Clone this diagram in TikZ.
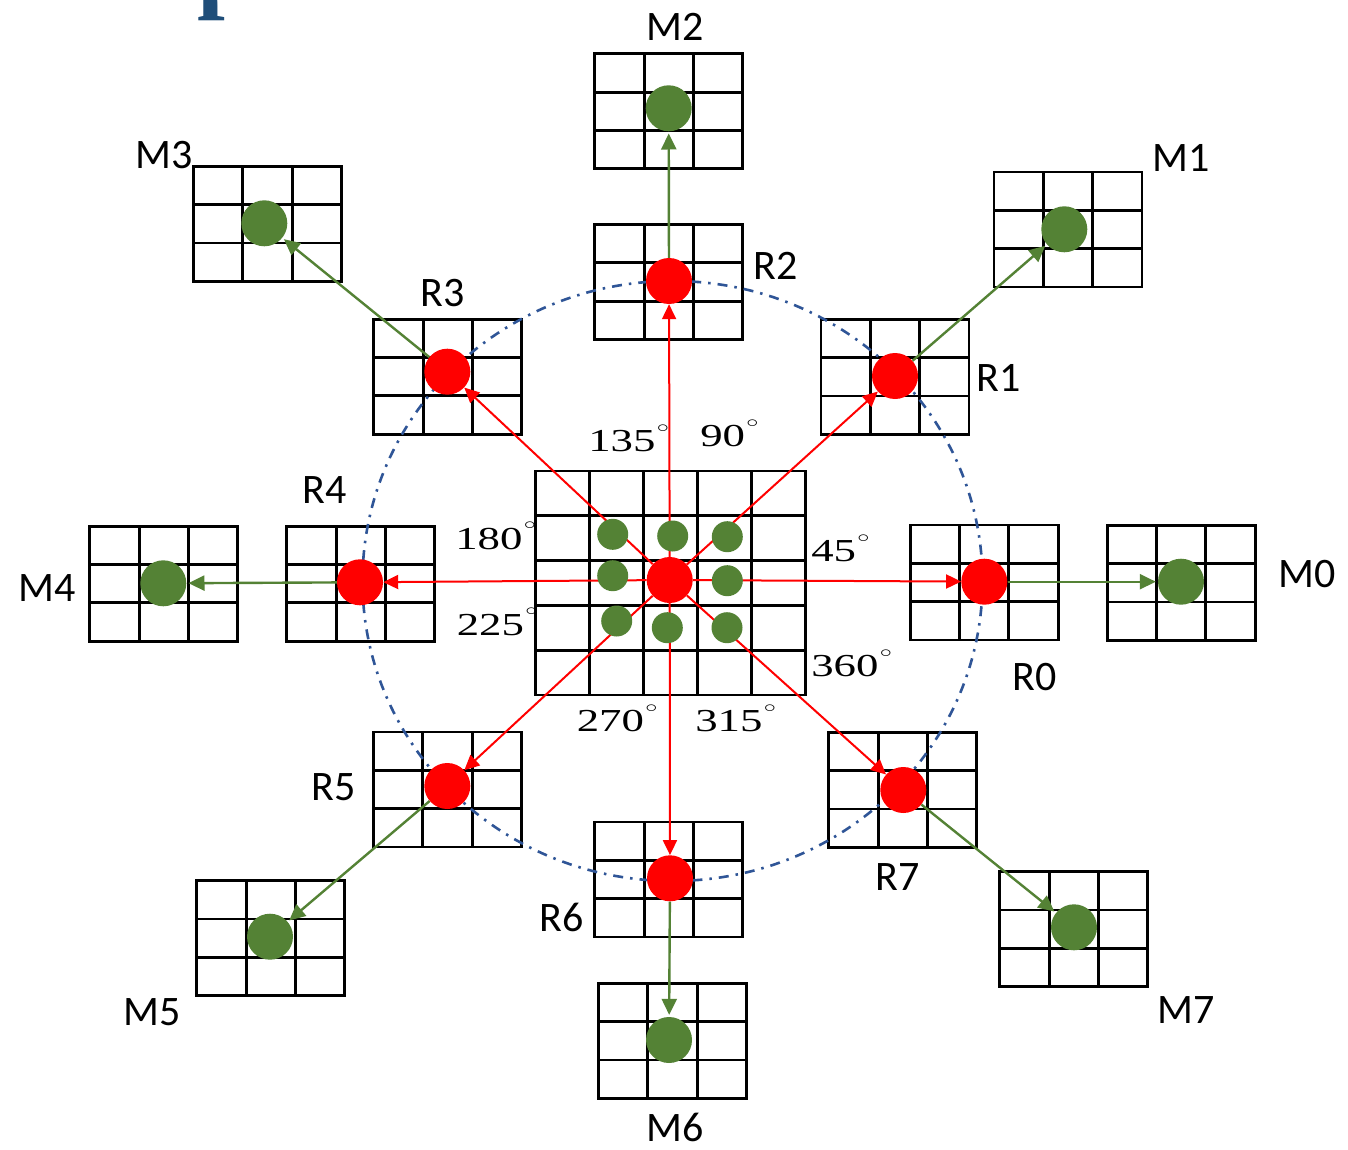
\documentclass[tikz,border=0pt]{standalone}
\usepackage{fontspec}
\newfontfamily\lblfont{Carlito}
\newfontfamily\angfont{Liberation Serif}
\usetikzlibrary{arrows.meta,calc}
\pgfdeclarelayer{gridlayer}
\pgfdeclarelayer{linelayer}
\pgfsetlayers{gridlayer,linelayer,main}
\definecolor{dotred}{RGB}{255,0,0}
\definecolor{dotgreen}{RGB}{84,130,53}
\definecolor{ringblue}{RGB}{47,85,151}
\definecolor{titleblue}{RGB}{31,78,121}
\newcommand\degsign{\kern1pt\raisebox{0.6em}{$\scriptscriptstyle\circ$}}
\tikzset{
  cellbox/.style={draw=black, line width=2.8pt, inner sep=0pt,
    minimum width=148pt, minimum height=115pt,
    path picture={
      \foreach \f in {0.3333,0.6667}{
        \draw[line width=2.8pt] ($(path picture bounding box.south west)!\f!(path picture bounding box.south east)$) -- ($(path picture bounding box.north west)!\f!(path picture bounding box.north east)$);
        \draw[line width=2.8pt] ($(path picture bounding box.south west)!\f!(path picture bounding box.north west)$) -- ($(path picture bounding box.south east)!\f!(path picture bounding box.north east)$);
      }}},
  bigbox/.style={draw=black, line width=2.8pt, inner sep=0pt,
    minimum width=270pt, minimum height=224pt,
    path picture={
      \foreach \f in {0.2,0.4,0.6,0.8}{
        \draw[line width=2.8pt] ($(path picture bounding box.south west)!\f!(path picture bounding box.south east)$) -- ($(path picture bounding box.north west)!\f!(path picture bounding box.north east)$);
        \draw[line width=2.8pt] ($(path picture bounding box.south west)!\f!(path picture bounding box.north west)$) -- ($(path picture bounding box.south east)!\f!(path picture bounding box.north east)$);
      }}},
  reddot/.style={circle, fill=dotred, inner sep=0pt, minimum size=46pt},
  greendot/.style={circle, fill=dotgreen, inner sep=0pt, minimum size=46pt},
  smalldot/.style={circle, fill=dotgreen, inner sep=0pt, minimum size=31pt},
  redarrow/.style={draw=dotred, line width=2pt, -{Triangle[length=15pt,width=14pt]}},
  greenarrow/.style={draw=dotgreen, line width=2.4pt, -{Triangle[length=16pt,width=15pt]}, shorten >=2pt},
  lbl/.style={font=\lblfont\fontsize{42}{50}\selectfont, inner sep=0pt},
  ang/.style={font=\angfont\fontsize{32}{38}\selectfont, inner sep=0pt, xscale=1.4, anchor=base west},
  ring/.style={draw=ringblue, line width=2.6pt, dash pattern=on 10pt off 7pt on 2.5pt off 7pt}
}
\begin{document}
\begin{tikzpicture}[x=1pt,y=-1pt]
\useasboundingbox (0,0) rectangle (1348,1150);
% grids
\begin{pgfonlayer}{gridlayer}
  \fill[white] (0,0) rectangle (1348,1150);
  \node[bigbox] (cg) at (670.7,583) {};
  \node[cellbox] (gm2) at (668.8,111.3) {};
  \node[cellbox] (gr2) at (668.8,282) {};
  \node[cellbox] (gm1) at (1068,229.5) {};
  \node[cellbox] (gr1) at (895,376.8) {};
  \node[cellbox] (gm3) at (267.5,223.8) {};
  \node[cellbox] (gr3) at (447.8,376.7) {};
  \node[cellbox] (gm4) at (163.8,583.7) {};
  \node[cellbox] (gr4) at (360.8,583.7) {};
  \node[cellbox] (gm0) at (1181.2,582.8) {};
  \node[cellbox] (gr0) at (984.2,582.5) {};
  \node[cellbox] (gr5) at (447.5,789.5) {};
  \node[cellbox] (gm5) at (270.8,938.2) {};
  \node[cellbox] (gr6) at (668.8,879.5) {};
  \node[cellbox] (gm6) at (672.5,1040.8) {};
  \node[cellbox] (gr7) at (902.8,789.8) {};
  \node[cellbox] (gm7) at (1073.8,929.2) {};
\end{pgfonlayer}
% partly visible title glyph at the top edge
\begin{scope}
  \clip (0,0) rectangle (1348,1150);
  \node[font=\angfont\bfseries\fontsize{100}{110}\selectfont, text=titleblue, inner sep=0pt, anchor=base west] (ttl) at (197,-0.5) {p};
\end{scope}
% dots
\node[reddot] (c) at (669.7,580) {};
\node[reddot] (r0) at (984.3,581.7) {};
\node[reddot] (r1) at (895,376) {};
\node[reddot] (r2) at (669,281) {};
\node[reddot] (r3) at (447.3,371.7) {};
\node[reddot] (r4) at (360,582.3) {};
\node[reddot] (r5) at (447.3,786) {};
\node[reddot] (r6) at (670,878.3) {};
\node[reddot] (r7) at (903.3,790) {};
\node[greendot] (m0) at (1181,581.7) {};
\node[greendot] (m1) at (1064.3,229.3) {};
\node[greendot] (m2) at (668.7,108.3) {};
\node[greendot] (m3) at (264.3,223.3) {};
\node[greendot] (m4) at (163.3,583.3) {};
\node[greendot] (m5) at (270,936.7) {};
\node[greendot] (m6) at (669,1040) {};
\node[greendot] (m7) at (1074,927.3) {};
\node[smalldot] (g1) at (612.7,534.3) {};
\node[smalldot] (g2) at (672.7,536) {};
\node[smalldot] (g3) at (727.3,536.7) {};
\node[smalldot] (g4) at (612.7,575.7) {};
\node[smalldot] (g5) at (727.3,580.7) {};
\node[smalldot] (g6) at (616.7,621) {};
\node[smalldot] (g7) at (667.3,627.7) {};
\node[smalldot] (g8) at (727,627.7) {};
% ring and connectors
\begin{pgfonlayer}{linelayer}
  \draw[ring] (672.5,581) ellipse [x radius=310pt, y radius=300pt];
  \foreach \r in {r0,r1,r2,r3,r4,r5,r6,r7}{\draw[redarrow] (c) -- (\r);}
  \draw[greenarrow] (r0) -- (m0);
  \draw[greenarrow] (r1) -- (m1);
  \draw[greenarrow] (r2) -- (m2);
  \draw[greenarrow] (r3) -- (m3);
  \draw[greenarrow] (r4) -- (m4);
  \draw[greenarrow] (r5) -- (m5);
  \draw[greenarrow] (r6) -- (m6);
  \draw[greenarrow] (r7) -- (m7);
\end{pgfonlayer}
% labels
\node[lbl] (lm2) at (675,26.7) {M2};
\node[lbl] (lr2) at (775.8,266) {R2};
\node[lbl] (lm1) at (1180.8,158.3) {M1};
\node[lbl] (lr1) at (998.7,378) {R1};
\node[lbl] (lm3) at (164,155) {M3};
\node[lbl] (lr3) at (442.5,293) {R3};
\node[lbl] (lr4) at (325,490) {R4};
\node[lbl] (lm4) at (47.5,588.3) {M4};
\node[lbl] (lm0) at (1307.5,574) {M0};
\node[lbl] (lr0) at (1035,676.7) {R0};
\node[lbl] (lr5) at (333.3,787.5) {R5};
\node[lbl] (lm5) at (151.7,1012.5) {M5};
\node[lbl] (lr6) at (561.7,917.5) {R6};
\node[lbl] (lm6) at (675,1127.5) {M6};
\node[lbl] (lr7) at (897.5,876.7) {R7};
\node[lbl] (lm7) at (1185.8,1010) {M7};
% angle labels
\node[ang] (a135) at (588,451.7) {135\degsign};
\node[ang] (a90) at (700,446.7) {90\degsign};
\node[ang] (a45) at (811,561.7) {45\degsign};
\node[ang] (a360) at (811,676.7) {360\degsign};
\node[ang] (a270) at (576.5,731.7) {270\degsign};
\node[ang] (a315) at (695,731.7) {315\degsign};
\node[ang] (a180) at (455,549) {180\degsign};
\node[ang] (a225) at (456.5,635) {225\degsign};
\end{tikzpicture}
\end{document}
